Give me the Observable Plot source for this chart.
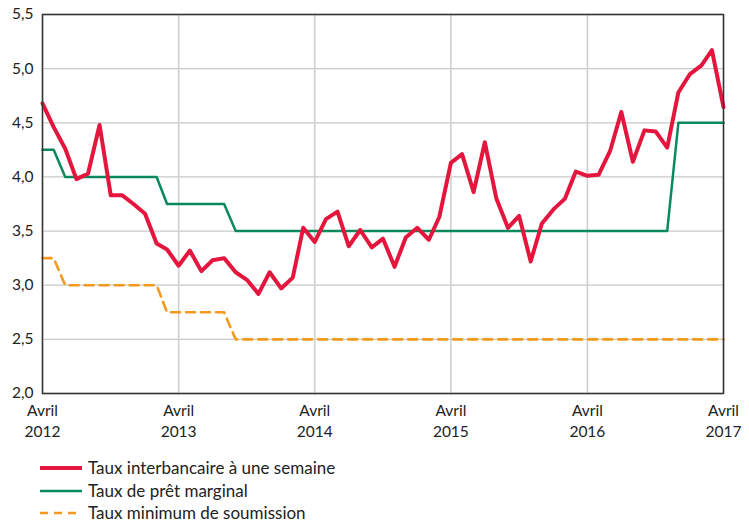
<!DOCTYPE html>
<html><head><meta charset="utf-8">
<script src="https://cdn.jsdelivr.net/npm/d3@7"></script>
<script src="https://cdn.jsdelivr.net/npm/@observablehq/plot@0.6"></script>
<style>
body{margin:0;background:#fff;font-family:Lato,"Open Sans",sans-serif;color:#222;}
#wrap{position:relative;width:749px;height:525px;overflow:hidden;}
#legend{position:absolute;left:40px;top:457px;font-size:17px;line-height:1.15;}
.row{display:flex;align-items:center;height:22.5px;}
.row svg{margin-right:6px;}
</style></head><body>
<div id="wrap"><div id="chart"></div><div id="legend"></div></div>
<script>
const startYear = 2012, startMonth = 3; // avril 2012
const interbank = [4.68,4.46,4.26,3.98,4.03,4.48,3.83,3.83,3.75,3.66,3.385,3.33,3.18,3.32,3.13,3.23,3.25,3.12,3.05,2.92,3.12,2.97,3.07,3.53,3.40,3.61,3.68,3.36,3.51,3.35,3.43,3.17,3.44,3.53,3.42,3.63,4.13,4.21,3.86,4.32,3.80,3.53,3.64,3.22,3.57,3.70,3.80,4.05,4.01,4.02,4.24,4.60,4.14,4.43,4.42,4.27,4.78,4.95,5.03,5.17,4.645];
const marginal = [4.25,4.25,4.0,4.0,4.0,4.0,4.0,4.0,4.0,4.0,4.0,3.75,3.75,3.75,3.75,3.75,3.75,3.5,3.5,3.5,3.5,3.5,3.5,3.5,3.5,3.5,3.5,3.5,3.5,3.5,3.5,3.5,3.5,3.5,3.5,3.5,3.5,3.5,3.5,3.5,3.5,3.5,3.5,3.5,3.5,3.5,3.5,3.5,3.5,3.5,3.5,3.5,3.5,3.5,3.5,3.5,4.5,4.5,4.5,4.5,4.5];
const minBid = [3.25,3.25,3.0,3.0,3.0,3.0,3.0,3.0,3.0,3.0,3.0,2.75,2.75,2.75,2.75,2.75,2.75,2.5,2.5,2.5,2.5,2.5,2.5,2.5,2.5,2.5,2.5,2.5,2.5,2.5,2.5,2.5,2.5,2.5,2.5,2.5,2.5,2.5,2.5,2.5,2.5,2.5,2.5,2.5,2.5,2.5,2.5,2.5,2.5,2.5,2.5,2.5,2.5,2.5,2.5,2.5,2.5,2.5,2.5,2.5,2.5];
const seriesNames = ["Taux interbancaire à une semaine","Taux de prêt marginal","Taux minimum de soumission"];
const tickYears = [2012,2013,2014,2015,2016,2017];
const tickMonthLabel = "Avril";
const yTicks = [2.0,2.5,3.0,3.5,4.0,4.5,5.0,5.5];
const colors = ["#e4163d","#0a8a5c","#f39a1e"];

const dates = interbank.map((_, i) => new Date(Date.UTC(startYear, startMonth + i, 1)));
const mk = arr => arr.map((v, i) => ({date: dates[i], value: v}));
const xTicks = tickYears.map(y => new Date(Date.UTC(y, startMonth, 1)));
const fmtY = d => d3.format(".1f")(d).replace(".", ",");

const chart = Plot.plot({
  width: 749, height: 450,
  marginLeft: 42, marginRight: 26, marginTop: 14, marginBottom: 57,
  style: {fontFamily: "Lato, 'Open Sans', sans-serif", fontSize: "15.5px", color: "#222"},
  x: {type: "utc", domain: [dates[0], dates[dates.length - 1]]},
  y: {domain: [2, 5.5]},
  marks: [
    Plot.gridY(yTicks, {stroke: "#c8c8c8", strokeOpacity: 1, strokeWidth: 1.3}),
    Plot.gridX(xTicks, {stroke: "#d0d0d0", strokeOpacity: 1, strokeWidth: 1.6}),
    Plot.axisY(yTicks, {tickSize: 0, tickPadding: 9, tickFormat: fmtY, label: null, fill: "#222"}),
    Plot.axisX(xTicks, {tickSize: 0, tickPadding: 8, tickFormat: d => tickMonthLabel + "\n" + d.getUTCFullYear(), lineHeight: 1.35, label: null, fill: "#222"}),
    Plot.line(mk(minBid), {x: "date", y: "value", stroke: colors[2], strokeWidth: 2.6, strokeDasharray: "9,6"}),
    Plot.line(mk(marginal), {x: "date", y: "value", stroke: colors[1], strokeWidth: 2.5}),
    Plot.line(mk(interbank), {x: "date", y: "value", stroke: colors[0], strokeWidth: 4, strokeLinejoin: "round"}),
    Plot.frame({stroke: "#333", strokeWidth: 1.5})
  ]
});
document.getElementById("chart").appendChild(chart);

const legend = document.getElementById("legend");
const styles = [{w: 4, dash: null}, {w: 2.5, dash: null}, {w: 2.6, dash: "8,6"}];
seriesNames.forEach((name, i) => {
  const row = document.createElement("div");
  row.className = "row";
  row.innerHTML = `<svg width="42" height="10"><line x1="0" x2="42" y1="5" y2="5" stroke="${colors[i]}" stroke-width="${styles[i].w}" ${styles[i].dash ? `stroke-dasharray="${styles[i].dash}"` : ""}/></svg><span>${name}</span>`;
  legend.appendChild(row);
});
</script>
</body></html>
